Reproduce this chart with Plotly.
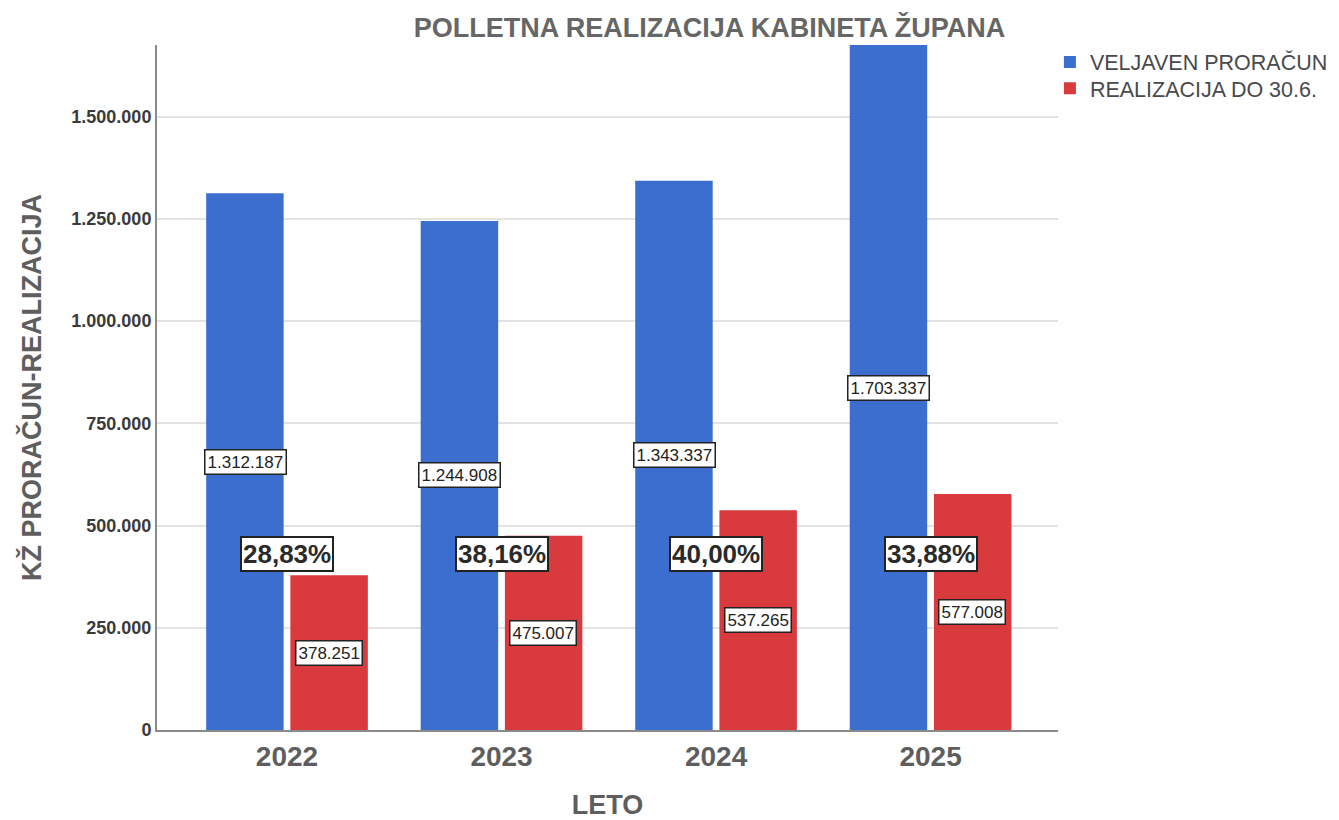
import plotly.graph_objects as go

# podatki
leta = ["2022", "2023", "2024", "2025"]
proracun = [1312187, 1244908, 1343337, 1703337]
realizacija = [378251, 475007, 537265, 577008]
odstotki = ["28,83%", "38,16%", "40,00%", "33,88%"]
y_ticks = [0, 250000, 500000, 750000, 1000000, 1250000, 1500000]
y_tick_labels = ["0", "250.000", "500.000", "750.000", "1.000.000", "1.250.000", "1.500.000"]

MODRA = "#3c6ecf"
RDECA = "#d83a3e"
SIVA = "#5e5e5e"
FONT = "Liberation Sans, Arial, sans-serif"
Y_MAX = 1675000


def fmt(v):
    return f"{v:,}".replace(",", ".")


fig = go.Figure()
fig.add_trace(go.Bar(x=leta, y=proracun, name="VELJAVEN PRORAČUN", legend="legend",
                     marker=dict(color=MODRA, line=dict(width=0))))
fig.add_trace(go.Bar(x=leta, y=realizacija, name="REALIZACIJA DO 30.6.", legend="legend2",
                     marker=dict(color=RDECA, line=dict(width=0))))

off = 0.195
annotations = []
for i, (p, r, pct) in enumerate(zip(proracun, realizacija, odstotki)):
    # vrednosti na stolpcih
    annotations.append(dict(x=i - off, y=min(p, Y_MAX) / 2, xref="x", yref="y",
                            text=fmt(p), showarrow=False,
                            font=dict(family=FONT, size=17, color="#222"),
                            bgcolor="white", bordercolor="#222", borderwidth=1.5, borderpad=2))
    annotations.append(dict(x=i + off, y=r / 2, xref="x", yref="y",
                            text=fmt(r), showarrow=False,
                            font=dict(family=FONT, size=17, color="#222"),
                            bgcolor="white", bordercolor="#222", borderwidth=1.5, borderpad=2))
    # odstotek realizacije
    annotations.append(dict(x=i, y=430000, xref="x", yref="y",
                            text=f"<b>{pct}</b>", showarrow=False,
                            font=dict(family=FONT, size=26, color="#2a2a2a"),
                            bgcolor="white", bordercolor="#222", borderwidth=2, borderpad=1))

leg = dict(xanchor="left", yanchor="middle",
           font=dict(family=FONT, size=21.5, color="#4a4a4a"),
           bgcolor="rgba(0,0,0,0)", itemwidth=30, borderwidth=0)

fig.update_layout(
    width=1331, height=812,
    paper_bgcolor="white", plot_bgcolor="white",
    margin=dict(l=149, r=281, t=37, b=90, autoexpand=False),
    barmode="group", bargap=0.215, bargroupgap=0.08,
    title=dict(text="<b>POLLETNA REALIZACIJA KABINETA ŽUPANA</b>",
               x=0.527, xanchor="center", y=0.976, yanchor="middle",
               font=dict(family=FONT, size=27, color="#666")),
    legend=dict(leg, x=0.991, y=0.975),
    legend2=dict(leg, x=0.991, y=0.937),
    annotations=annotations,
    showlegend=True,
)

fig.update_xaxes(
    range=[-0.606, 3.594], automargin=False,
    showline=True, linecolor="#8a8a8a", linewidth=2,
    showgrid=False, ticks="",
    tickfont=dict(family=FONT, size=28, color=SIVA),
    title=dict(text="<b>LETO</b>", font=dict(family=FONT, size=27, color=SIVA), standoff=27),
    tickprefix="<b>", ticksuffix="</b>",
)
fig.update_yaxes(
    range=[0, Y_MAX], automargin=False,
    tickvals=y_ticks, ticktext=[f"<b>{t}</b>" for t in y_tick_labels],
    showline=True, linecolor="#8a8a8a", linewidth=2,
    showgrid=True, gridcolor="#e3e3e3", gridwidth=2,
    zeroline=False, ticks="",
    tickfont=dict(family=FONT, size=18, color="#3a3a3a"),
    title=dict(text="<b>KŽ PRORAČUN-REALIZACIJA</b>",
               font=dict(family=FONT, size=27, color=SIVA), standoff=22),
)

fig.write_html("out.html")
